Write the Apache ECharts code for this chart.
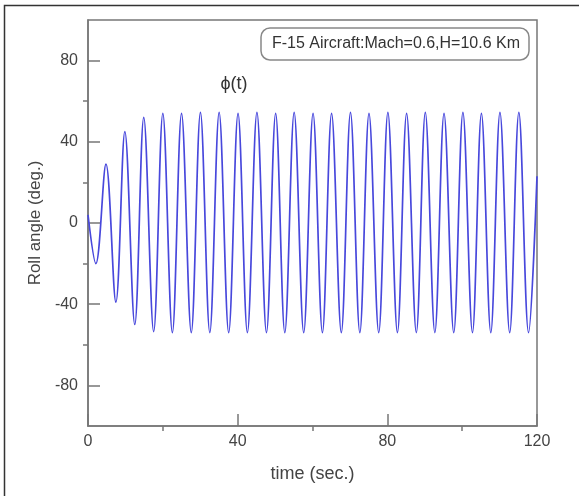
<!DOCTYPE html>
<html>
<head>
<meta charset="utf-8">
<script src="https://cdn.jsdelivr.net/npm/echarts@6/dist/echarts.min.js"></script>
<style>
  html, body { margin: 0; padding: 0; background: #fff; }
  #chart { width: 579px; height: 496px; }
</style>
</head>
<body>
<div id="chart"></div>
<script>
// turning points of the roll angle trace
var timeSec = [0, 2.1, 4.8, 7.45, 9.85, 12.5, 14.9, 17.55, 20.0, 22.55, 25.0, 27.6, 30.05,
  32.55, 35.05, 37.6, 40.1, 42.6, 45.15, 47.7, 50.15, 52.6, 55.1, 57.65, 60.15, 62.65,
  65.1, 67.7, 70.15, 72.65, 75.1, 77.7, 80.15, 82.7, 85.15, 87.75, 90.15, 92.7, 95.15,
  97.75, 100.2, 102.75, 105.15, 107.65, 110.1, 112.7, 115.15, 117.75, 120];
var rollDeg = [4, -20, 29, -39, 45, -50, 52, -53.5, 54, -54, 54, -54, 54.5,
  -54, 54.5, -54, 54, -54, 54.5, -54, 54, -54, 54.5, -54, 54, -54,
  54, -54, 54.5, -54, 54, -54, 54.5, -54, 54, -54, 54.5, -54, 54,
  -54, 54.5, -54, 54, -54, 54.5, -54, 54.5, -54, 23];

var xMinorTicks = ['0', '20', '40', '60', '80', '100', '120'];
var yTickVals = ['-100', '-80', '-60', '-40', '-20', '0', '20', '40', '60', '80', '100'];

var points = timeSec.map(function (t, i) { return [t, rollDeg[i]]; });

var axisGray = '#777';
var textGray = '#444';
var font = 'Liberation Sans, Arial, sans-serif';

var chart = echarts.init(document.getElementById('chart'));
var option = {
  animation: false,
  backgroundColor: '#fff',
  grid: {
    left: 88, right: 42, top: 20, bottom: 70,
    show: true, borderColor: axisGray, borderWidth: 1.5
  },
  xAxis: [{
    type: 'value', min: 0, max: 120, interval: 40,
    name: 'time (sec.)', nameLocation: 'middle', nameGap: 39,
    nameTextStyle: { color: textGray, fontSize: 18, fontFamily: font },
    axisLine: { show: true, onZero: false, lineStyle: { color: axisGray, width: 1.5 } },
    axisTick: { show: true, inside: true, length: 12, lineStyle: { color: axisGray, width: 1.5 } },
    axisLabel: { color: textGray, fontSize: 16, fontFamily: font, margin: 8 },
    splitLine: { show: false }
  }, {
    // outward minor ticks
    type: 'category', data: xMinorTicks, boundaryGap: false, position: 'bottom',
    axisLine: { show: false, onZero: false },
    axisTick: { show: true, inside: false, length: 5,
      interval: function (i) { return i % 2 === 1; },
      lineStyle: { color: axisGray, width: 1.5 } },
    axisLabel: { show: false },
    splitLine: { show: false }
  }],
  yAxis: [{
    type: 'value', min: -100, max: 100, interval: 20,
    name: 'Roll angle (deg.)', nameLocation: 'middle', nameGap: 38, nameRotate: 90,
    nameTextStyle: { color: textGray, fontSize: 17, fontFamily: font },
    axisLine: { show: true, onZero: false, lineStyle: { color: axisGray, width: 1.5 } },
    axisTick: { show: false },
    axisLabel: { color: textGray, fontSize: 16, fontFamily: font, margin: 10,
      formatter: function (v) { return v % 40 === 0 ? String(v) : ''; } },
    splitLine: { show: false }
  }, {
    // inward major ticks
    type: 'category', data: yTickVals, boundaryGap: false, position: 'left',
    axisLine: { show: false, onZero: false },
    axisTick: { show: true, inside: true, length: 12,
      interval: function (i) { return i % 2 === 1; },
      lineStyle: { color: axisGray, width: 1.5 } },
    axisLabel: { show: false },
    splitLine: { show: false }
  }, {
    // outward minor ticks
    type: 'category', data: yTickVals, boundaryGap: false, position: 'left',
    axisLine: { show: false, onZero: false },
    axisTick: { show: true, inside: false, length: 5,
      interval: function (i) { return i > 0 && i < 10 && i % 2 === 0; },
      lineStyle: { color: axisGray, width: 1.5 } },
    axisLabel: { show: false },
    splitLine: { show: false }
  }],
  graphic: [{
    type: 'rect', z: 100, silent: true,
    shape: { x: 4.5, y: 5.5, width: 800, height: 800 },
    style: { fill: 'none', stroke: '#333', lineWidth: 1.5 }
  }, {
    type: 'rect', z: 100,
    shape: { x: 261, y: 28, width: 268, height: 32, r: 9 },
    style: { fill: '#fff', stroke: '#888', lineWidth: 1.5 }
  }, {
    type: 'text', z: 101, x: 396, y: 44,
    style: { text: 'F-15 Aircraft:Mach=0.6,H=10.6 Km', fill: '#333', fontSize: 16,
      fontFamily: font, align: 'center', verticalAlign: 'middle' }
  }, {
    type: 'text', z: 101, x: 234, y: 84,
    style: { text: '\u03d5(t)', fill: '#333', fontSize: 18,
      fontFamily: font, align: 'center', verticalAlign: 'middle' }
  }],
  series: [{
    type: 'line',
    xAxisIndex: 0, yAxisIndex: 0,
    data: points,
    smooth: 0.36,
    showSymbol: false,
    lineStyle: { color: '#4848dc', width: 1.7 },
    itemStyle: { color: '#4848dc' }
  }]
};
chart.setOption(option);
</script>
</body>
</html>
